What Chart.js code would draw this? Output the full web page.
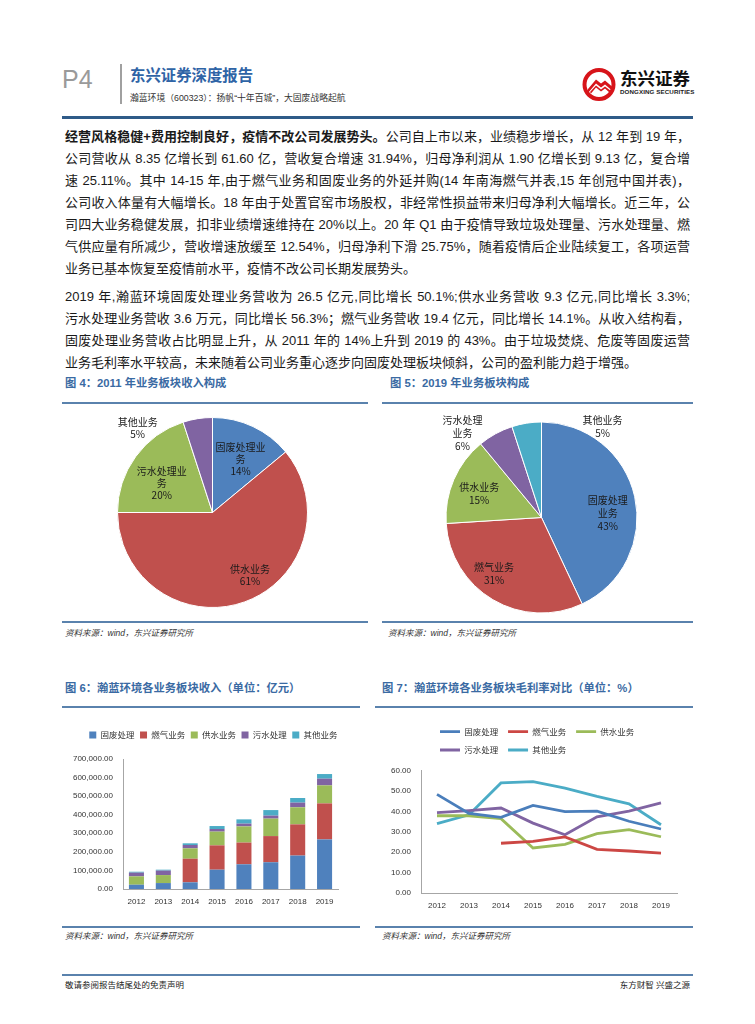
<!DOCTYPE html>
<html>
<head>
<meta charset="utf-8">
<script src="https://cdn.jsdelivr.net/npm/chart.js@4.4.1/dist/chart.umd.min.js"></script>
<style>
  body { margin: 0; width: 755px; height: 1024px; position: relative; overflow: hidden; background: #fff;
         font-family: "Liberation Sans", "Noto Sans CJK SC", sans-serif; color: #1a1a1a; }
  .a { position: absolute; }
  .p { position: absolute; left: 65px; width: 625px; height: 22px; line-height: 22px; font-size: 13px;
       white-space: nowrap; text-align: justify; text-align-last: justify; }
  .p.last { text-align-last: left; }
  .ft { position: absolute; font-size: 11.3px; font-weight: bold; color: #3a6aa3; line-height: 14px; }
  .rule { position: absolute; height: 2px; background: #5a82ad; }
  .src { position: absolute; font-size: 8.5px; font-style: italic; color: #333; line-height: 12px; }
  canvas { position: absolute; }
</style>
</head>
<body>

<!-- header -->
<div class="a" style="left:62px;top:64px;font-size:25px;color:#9a9a9a;line-height:30px;">P4</div>
<div class="a" style="left:120px;top:64px;width:2px;height:40px;background:#a0a0a0;"></div>
<div class="a" style="left:130px;top:66px;font-size:15.4px;font-weight:bold;color:#2f64a6;line-height:20px;">东兴证券深度报告</div>
<div class="a" style="left:130px;top:92px;font-size:8.8px;color:#333;line-height:12px;">瀚蓝环境（600323）：扬帆“十年百城”，大固废战略起航</div>
<svg class="a" style="left:582px;top:67px" width="36" height="36" viewBox="0 0 36 36">
  <circle cx="17" cy="17.5" r="14.5" fill="#fff" stroke="#d7141a" stroke-width="4"/>
  <path d="M6 22 L14 12.5 L19 16.5 L23 13.5 L30 19.5 L30 23.5 L23 17.5 L19 20.5 L14 16.5 L6 26 Z" fill="#d7141a"/>
  <path d="M8 25 L14 18.5 L19 22.5 L23 19.5 L29 24 L28 26 L23 21.5 L19 24.5 L14 20.5 L9 26.5 Z" fill="#d7141a"/>
</svg>
<div class="a" style="left:620px;top:69px;font-size:17.5px;font-weight:bold;color:#111;line-height:21px;">东兴证券</div>
<div class="a" style="left:620px;top:88px;font-size:6.2px;font-weight:bold;color:#222;line-height:8px;letter-spacing:0.1px;">DONGXING SECURITIES</div>
<div class="a" style="left:62px;top:116px;width:631px;height:3px;background:#2f5b88;"></div>

<!-- paragraph 1 -->
<div class="p" style="top:126px"><b>经营风格稳健+费用控制良好，疫情不改公司发展势头。</b>公司自上市以来，业绩稳步增长，从 12 年到 19 年，</div>
<div class="p" style="top:148px">公司营收从 8.35 亿增长到 61.60 亿，营收复合增速 31.94%，归母净利润从 1.90 亿增长到 9.13 亿，复合增</div>
<div class="p" style="top:170px">速 25.11%。其中 14-15 年,由于燃气业务和固废业务的外延并购(14 年南海燃气并表,15 年创冠中国并表)，</div>
<div class="p" style="top:192px">公司收入体量有大幅增长。18 年由于处置官窑市场股权，非经常性损益带来归母净利大幅增长。近三年，公</div>
<div class="p" style="top:214px">司四大业务稳健发展，扣非业绩增速维持在 20%以上。20 年 Q1 由于疫情导致垃圾处理量、污水处理量、燃</div>
<div class="p" style="top:236px">气供应量有所减少，营收增速放缓至 12.54%，归母净利下滑 25.75%，随着疫情后企业陆续复工，各项运营</div>
<div class="p last" style="top:258px">业务已基本恢复至疫情前水平，疫情不改公司长期发展势头。</div>

<!-- paragraph 2 -->
<div class="p" style="top:286px">2019 年,瀚蓝环境固废处理业务营收为 26.5 亿元,同比增长 50.1%;供水业务营收 9.3 亿元,同比增长 3.3%;</div>
<div class="p" style="top:308px">污水处理业务营收 3.6 万元，同比增长 56.3%；燃气业务营收 19.4 亿元，同比增长 14.1%。从收入结构看，</div>
<div class="p" style="top:330px">固废处理业务营收占比明显上升，从 2011 年的 14%上升到 2019 的 43%。由于垃圾焚烧、危废等固废运营</div>
<div class="p last" style="top:352px">业务毛利率水平较高，未来随着公司业务重心逐步向固废处理板块倾斜，公司的盈利能力趋于增强。</div>

<!-- figure 4 / 5 frames -->
<div class="ft" style="left:65px;top:376px;">图 4：2011 年业务板块收入构成</div>
<div class="rule" style="left:62px;top:402px;width:306px;"></div>
<div class="rule" style="left:62px;top:621px;width:306px;"></div>
<div class="src" style="left:65px;top:627px;">资料来源：wind，东兴证券研究所</div>

<div class="ft" style="left:390px;top:376px;">图 5：2019 年业务板块构成</div>
<div class="rule" style="left:382px;top:402px;width:311px;"></div>
<div class="rule" style="left:382px;top:621px;width:311px;"></div>
<div class="src" style="left:388px;top:627px;">资料来源：wind，东兴证券研究所</div>

<!-- figure 6 / 7 frames -->
<div class="ft" style="left:65px;top:681px;">图 6：瀚蓝环境各业务板块收入（单位：亿元）</div>
<div class="rule" style="left:62px;top:706px;width:298px;"></div>
<div class="rule" style="left:62px;top:926px;width:298px;"></div>
<div class="src" style="left:65px;top:930px;">资料来源：wind，东兴证券研究所</div>

<div class="ft" style="left:382px;top:681px;">图 7：瀚蓝环境各业务板块毛利率对比（单位：%）</div>
<div class="rule" style="left:375px;top:706px;width:318px;"></div>
<div class="rule" style="left:375px;top:926px;width:318px;"></div>
<div class="src" style="left:382px;top:930px;">资料来源：wind，东兴证券研究所</div>

<canvas id="pie2011" width="305" height="215" style="left:60px;top:405px;"></canvas>
<canvas id="pie2019" width="305" height="215" style="left:389px;top:410px;"></canvas>
<canvas id="revChart" width="302" height="189" style="left:62px;top:720px;"></canvas>
<canvas id="marginChart" width="310" height="201" style="left:380px;top:712px;"></canvas>

<!-- footer -->
<div class="a" style="left:62px;top:974px;width:631px;height:2px;background:#5a82ad;"></div>
<div class="a" style="left:65px;top:979px;font-size:8.5px;color:#222;line-height:12px;">敬请参阅报告结尾处的免责声明</div>
<div class="a" style="left:560px;top:979px;width:130px;text-align:right;font-size:8.5px;color:#222;line-height:12px;">东方财智 兴盛之源</div>

<script>
// pie data
const pie2011Names = ['固废处理业务', '供水业务', '污水处理业务', '其他业务'];
const pie2011Share = [14, 61, 20, 5];
const pie2019Names = ['固废处理业务', '燃气业务', '供水业务', '污水处理业务', '其他业务'];
const pie2019Share = [43, 31, 15, 6, 5];

// revenue by segment (万元)
const years = ['2012', '2013', '2014', '2015', '2016', '2017', '2018', '2019'];
const segNames = ['固废处理', '燃气业务', '供水业务', '污水处理', '其他业务'];
const revSolid  = [23000, 32000, 36000, 104000, 133000, 144000, 180000, 267000];
const revGas    = [0, 0, 127000, 131000, 117000, 141000, 168000, 194000];
const revWater  = [45000, 43000, 56000, 74000, 87000, 94000, 92000, 97000];
const revSewage = [20000, 24000, 18000, 14000, 15000, 16000, 25000, 36000];
const revOther  = [5000, 5000, 9000, 16000, 23000, 30000, 25000, 25000];
const revTicks  = [0, 100000, 200000, 300000, 400000, 500000, 600000, 700000];

// gross margin by segment (%)
const marginSolid  = [48.4, 39.0, 37.1, 43.0, 39.9, 40.2, 35.2, 31.4];
const marginGas    = [null, null, 24.4, 25.3, 27.5, 21.4, 20.6, 19.6];
const marginWater  = [37.9, 37.9, 36.5, 22.1, 23.9, 29.1, 31.1, 27.6];
const marginSewage = [39.4, 40.4, 41.7, 34.3, 28.6, 37.4, 40.2, 44.2];
const marginOther  = [34.0, 38.4, 54.0, 54.6, 51.5, 47.4, 43.7, 33.5];
const marginTicks  = [0, 10, 20, 30, 40, 50, 60];

const segColors = ['#4f81bd', '#c0504d', '#9bbb59', '#8064a2', '#4bacc6'];
const lineColors = ['#4a7ebb', '#cc4744', '#9bbb59', '#8064a2', '#4bacc6'];

Chart.defaults.font.family = '"Liberation Sans", "Noto Sans CJK SC", sans-serif';
Chart.defaults.color = '#333';

// split a name into lines of n characters
function wrap(name, n) {
  const out = [];
  for (let i = 0; i < name.length; i += n) out.push(name.slice(i, i + n));
  return out;
}

// text labels on the pie slices
const pieLabels = {
  id: 'pieLabels',
  afterDatasetsDraw(chart, args, opts) {
    const ctx = chart.ctx;
    const meta = chart.getDatasetMeta(0);
    const values = chart.data.datasets[0].data;
    ctx.save();
    ctx.font = '10px "Noto Sans CJK SC"';
    ctx.fillStyle = '#1a1a1a';
    ctx.textAlign = 'center';
    ctx.textBaseline = 'middle';
    meta.data.forEach((arc, i) => {
      const pl = opts.place[i];
      const mid = (arc.startAngle + arc.endAngle) / 2;
      const r = arc.outerRadius * pl[0];
      const x = arc.x + Math.cos(mid) * r + pl[1];
      const y = arc.y + Math.sin(mid) * r + pl[2];
      const lines = wrap(chart.data.labels[i], opts.chars).concat([values[i] + '%']);
      lines.forEach((t, k) => ctx.fillText(t, x, y + (k - (lines.length - 1) / 2) * opts.lh));
    });
    ctx.restore();
  }
};

// fixed legend height and horizontal shift
const legendFix = {
  id: 'legendFix',
  afterInit(chart, args, opts) {
    const lg = chart.legend;
    const fit = lg.fit;
    lg.fit = function () { fit.call(lg); lg.height = opts.height; };
  },
  afterLayout(chart, args, opts) {
    chart.legend.left += opts.shift;
    chart.legend.right += opts.shift;
  }
};

function pie(id, names, share, colors, pad, place, chars, lh) {
  new Chart(document.getElementById(id), {
    type: 'pie',
    data: {
      labels: names,
      datasets: [{ data: share, backgroundColor: colors, borderColor: '#fff', borderWidth: 1 }]
    },
    options: {
      responsive: false,
      animation: false,
      layout: { padding: pad },
      plugins: {
        legend: { display: false },
        tooltip: { enabled: false },
        pieLabels: { place: place, chars: chars, lh: lh }
      }
    },
    plugins: [pieLabels]
  });
}

pie('pie2011', pie2011Names, pie2011Share,
    [segColors[0], segColors[1], segColors[2], segColors[3]], 12,
    [[0.62, 3, 0], [0.7, 15, 0], [0.66, 0, 8], [1.0, -60, 10]], 5, 12);
pie('pie2019', pie2019Names, pie2019Share, segColors, 11.5,
    [[0.7, 1, 10], [0.75, -11, -5], [0.7, -1, 3], [1.0, -33, -1], [1.0, 76, 4]], 4, 13);

const tickFont = { size: 8, family: '"Liberation Sans", sans-serif' };
const legendFont = { size: 8.5, family: '"Noto Sans CJK SC", sans-serif' };

new Chart(document.getElementById('revChart'), {
  type: 'bar',
  data: {
    labels: years,
    datasets: [revSolid, revGas, revWater, revSewage, revOther].map((d, i) => ({
      label: segNames[i], data: d, backgroundColor: segColors[i], borderWidth: 0,
      barPercentage: 0.56, categoryPercentage: 1
    }))
  },
  options: {
    responsive: false,
    animation: false,
    layout: { padding: { top: 5.25, right: 26, left: 0, bottom: 0 } },
    plugins: {
      legend: { labels: { boxWidth: 7, boxHeight: 7, padding: 5.5, font: legendFont, color: '#333' } },
      tooltip: { enabled: false },
      legendFix: { height: 33.75, shift: 13.4 }
    },
    scales: {
      x: {
        stacked: true,
        grid: { display: false, drawTicks: false },
        border: { display: true, color: '#a6a6a6' },
        ticks: { padding: 8, font: tickFont, color: '#333' },
        afterFit: s => { s.height = 20; }
      },
      y: {
        stacked: true, min: 0, max: revTicks[revTicks.length - 1],
        afterBuildTicks: s => { s.ticks = revTicks.map(v => ({ value: v })); },
        grid: { display: false, drawTicks: false },
        border: { display: true, color: '#a6a6a6' },
        ticks: {
          padding: 10, font: tickFont, color: '#333',
          callback: v => v.toLocaleString('en-US', { minimumFractionDigits: 2, maximumFractionDigits: 2 })
        },
        afterFit: s => { s.width = 61; }
      }
    }
  },
  plugins: [legendFix]
});

new Chart(document.getElementById('marginChart'), {
  type: 'line',
  data: {
    labels: years,
    datasets: [marginSolid, marginGas, marginWater, marginSewage, marginOther].map((d, i) => ({
      label: segNames[i], data: d, borderColor: lineColors[i], backgroundColor: lineColors[i],
      borderWidth: 2.8, pointRadius: 0, tension: 0, fill: false
    }))
  },
  options: {
    responsive: false,
    animation: false,
    layout: { padding: { top: 5.65, right: 13, left: 0, bottom: 0 } },
    plugins: {
      legend: {
        fullSize: false, align: 'start',
        labels: { usePointStyle: true, pointStyle: 'line', pointStyleWidth: 20, padding: 9.8, font: legendFont, color: '#333' }
      },
      tooltip: { enabled: false },
      legendFix: { height: 53.05, shift: 9.2 }
    },
    scales: {
      x: {
        offset: true,
        grid: { display: false, drawTicks: false },
        border: { display: true, color: '#a6a6a6' },
        ticks: { padding: 7.5, font: tickFont, color: '#333' },
        afterFit: s => { s.height = 20; }
      },
      y: {
        min: 0, max: marginTicks[marginTicks.length - 1],
        afterBuildTicks: s => { s.ticks = marginTicks.map(v => ({ value: v })); },
        grid: { display: false, drawTicks: false },
        border: { display: true, color: '#a6a6a6' },
        ticks: { padding: 10, font: tickFont, color: '#333', callback: v => v.toFixed(2) },
        afterFit: s => { s.width = 41; }
      }
    }
  },
  plugins: [legendFix]
});
</script>
</body>
</html>
